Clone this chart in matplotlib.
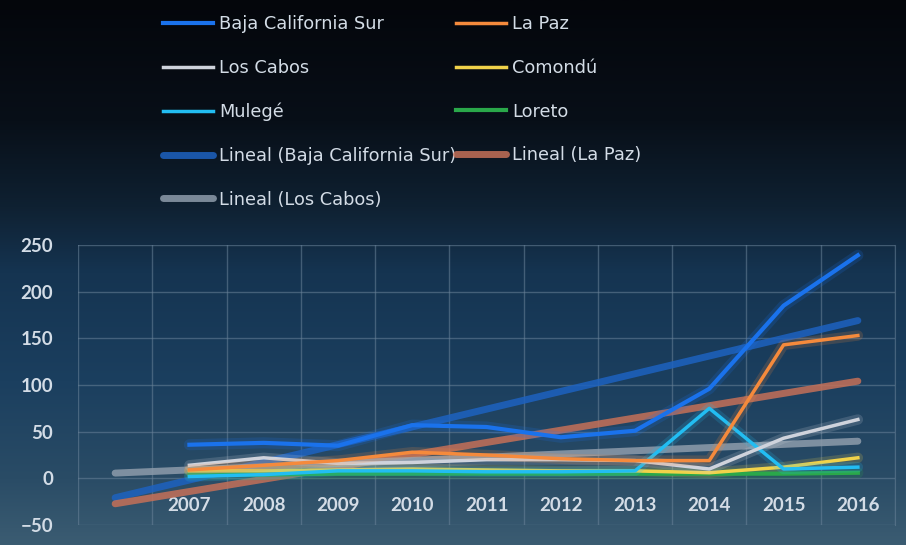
import numpy as np
import matplotlib
matplotlib.use("Agg")
import matplotlib.pyplot as plt
from matplotlib.colors import LinearSegmentedColormap

# ---- data ----
years = ["2007", "2008", "2009", "2010", "2011", "2012", "2013", "2014", "2015", "2016"]
baja_california_sur = [36, 38, 35, 57, 55, 44, 51, 96, 185, 239]
la_paz = [9, 14, 19, 28, 25, 21, 19, 19, 143, 153]
los_cabos = [14, 22, 16, 17, 20, 20, 19, 10, 43, 63]
comondu = [8, 8, 9, 10, 9, 8, 8, 6, 12, 22]
mulege = [2, 4, 8, 8, 7, 7, 8, 75, 10, 12]
loreto = [4, 4, 5, 5, 5, 5, 5, 5, 5, 6]

text_color = "#d3dce6"
plt.rcParams['font.family'] = ['Lato', 'DejaVu Sans']

fig = plt.figure(figsize=(9.06, 5.45), dpi=100)

# background gradient
bg = fig.add_axes([0, 0, 1, 1], zorder=-10)
cmap = LinearSegmentedColormap.from_list(
    "bg", [(0.0, "#04060b"), (0.22, "#080f18"), (0.38, "#0f2132"),
           (0.5, "#153451"), (0.7, "#1b3f5f"), (0.88, "#2a4c66"), (1.0, "#3b5c72")])
grad = np.linspace(0, 1, 256).reshape(-1, 1)
bg.imshow(grad, aspect="auto", cmap=cmap, extent=[0, 1, 0, 1], origin="upper")
bg.axis("off")

ax = fig.add_axes([78 / 906, 1 - 525 / 545, (895 - 78) / 906, (525 - 245) / 545])
ax.set_facecolor("none")

x = np.arange(1, len(years) + 1)
xt = np.arange(0, len(years) + 1)

def trend(vals):
    k, b = np.polyfit(x, vals, 1)
    return k * xt + b

h_lin_bcs, = ax.plot(xt, trend(baja_california_sur), color="#1d62c0", lw=5, alpha=0.85,
                     solid_capstyle="round", label="Lineal (Baja California Sur)", zorder=2)
h_lin_lp, = ax.plot(xt, trend(la_paz), color="#c57058", lw=5, alpha=0.85,
                    solid_capstyle="round", label="Lineal (La Paz)", zorder=2)
h_lin_lc, = ax.plot(xt, trend(los_cabos), color="#8e9cab", lw=5, alpha=0.85,
                    solid_capstyle="round", label="Lineal (Los Cabos)", zorder=2)

series = [
    (loreto, "#2aa84a", 3, "Loreto", 3),
    (comondu, "#f0d24a", 2.5, "Comondú", 3),
    (mulege, "#22bdf2", 2.5, "Mulegé", 4),
    (los_cabos, "#cfd3dc", 2.5, "Los Cabos", 4),
    (la_paz, "#f58a3c", 2.5, "La Paz", 5),
    (baja_california_sur, "#1a72ec", 3, "Baja California Sur", 5),
]
hd = {}
for vals, c, w, lab, z in series:
    ax.plot(x, vals, color=c, lw=w + 5, alpha=0.18, zorder=z - 0.5, solid_capstyle="round")
    h, = ax.plot(x, vals, color=c, lw=w, label=lab, zorder=z)
    hd[lab] = h

ax.set_xlim(-0.5, len(years) + 0.5)
ax.set_ylim(-50, 250)
ax.set_yticks([-50, 0, 50, 100, 150, 200, 250])
ax.set_xticks(x)
ax.set_xticklabels(years)
ax.set_xticks(np.arange(-0.5, len(years) + 1, 1), minor=True)
ax.tick_params(axis="x", which="both", length=0, pad=-20, colors=text_color, labelsize=13.5)
ax.tick_params(axis="y", length=0, pad=18, colors=text_color, labelsize=13.5)
for lbl in ax.get_xticklabels() + ax.get_yticklabels():
    lbl.set_fontweight("bold")
ax.grid(True, axis="y", which="major", color="#6a8399", lw=1, alpha=0.55)
ax.grid(True, axis="x", which="minor", color="#6a8399", lw=1, alpha=0.55)
ax.grid(False, axis="x", which="major")
for s in ax.spines.values():
    s.set_visible(False)
ax.spines["right"].set_visible(True)
ax.spines["right"].set_color("#6a8399")
ax.spines["right"].set_alpha(0.55)

handles = [hd["Baja California Sur"], hd["Los Cabos"], hd["Mulegé"], h_lin_bcs, h_lin_lc,
           hd["La Paz"], hd["Comondú"], hd["Loreto"], h_lin_lp]
leg = fig.legend(handles=handles, labels=[h.get_label() for h in handles],
                 ncol=2, loc="upper left", bbox_to_anchor=(163 / 906, 1 - 15 / 545),
                 frameon=False, prop={"family": ["DejaVu Sans"], "size": 12.8},
                 handlelength=2.8, handletextpad=0.35,
                 columnspacing=0.0, labelspacing=1.45, borderpad=0, borderaxespad=0)
for t in leg.get_texts():
    t.set_color(text_color)

fig.savefig("out.png", dpi=100)
